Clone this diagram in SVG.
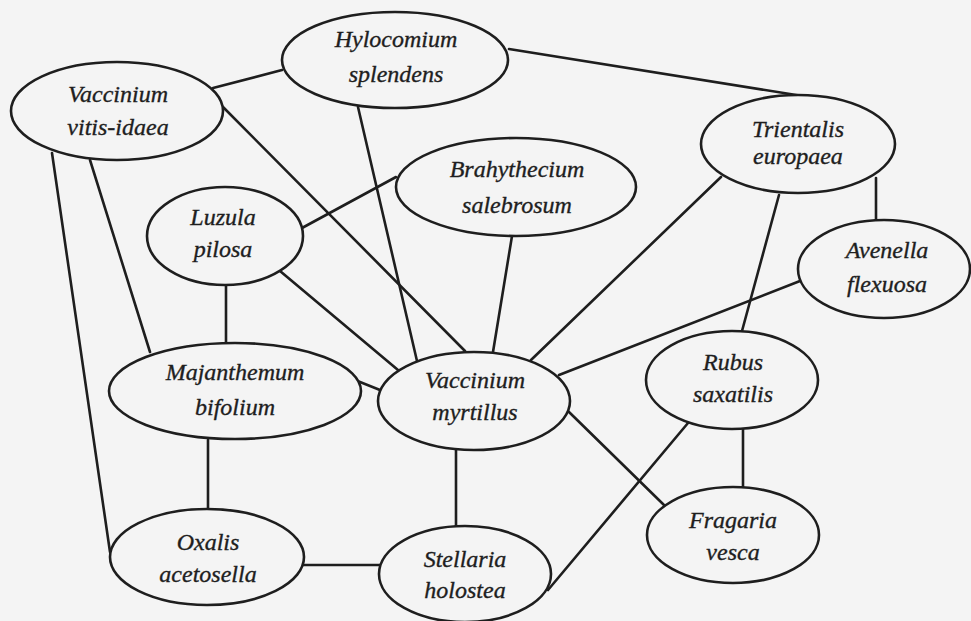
<svg xmlns="http://www.w3.org/2000/svg" width="971" height="621" viewBox="0 0 971 621">
<style>
.n ellipse{fill:#f4f4f4;stroke:#1e1e1e;stroke-width:2.6}
.n text{font-family:"Liberation Serif","Times New Roman","DejaVu Serif",serif;font-style:italic;font-size:24px;fill:#1e1e1e;stroke:#1e1e1e;stroke-width:0.35;text-anchor:middle}
#edges line{stroke:#1e1e1e;stroke-width:2.6;stroke-linecap:round}
</style>
<rect width="971" height="621" fill="#f4f4f4"/>
<g id="edges">
<line x1="213" y1="88" x2="282" y2="70"/>
<line x1="509" y1="49" x2="815" y2="98"/>
<line x1="223" y1="107" x2="465" y2="351"/>
<line x1="358" y1="107" x2="417" y2="361"/>
<line x1="302" y1="228" x2="396" y2="177"/>
<line x1="280" y1="271" x2="398" y2="370"/>
<line x1="226" y1="285" x2="226" y2="343"/>
<line x1="90" y1="160" x2="150" y2="352"/>
<line x1="52" y1="153" x2="110" y2="552"/>
<line x1="208" y1="440" x2="208" y2="509"/>
<line x1="355" y1="380" x2="380" y2="390"/>
<line x1="512" y1="236" x2="493" y2="352"/>
<line x1="721" y1="177" x2="531" y2="360"/>
<line x1="779" y1="195" x2="742" y2="331"/>
<line x1="876" y1="178" x2="876" y2="220"/>
<line x1="800" y1="281" x2="559" y2="375"/>
<line x1="569" y1="412" x2="664" y2="505"/>
<line x1="688" y1="423" x2="548" y2="590"/>
<line x1="743" y1="428" x2="743" y2="487"/>
<line x1="456" y1="450" x2="456" y2="527"/>
<line x1="303" y1="565" x2="380" y2="565"/>
</g>
<g id="hylocomium" class="n"><ellipse cx="395" cy="60" rx="113" ry="48"/><text x="396" y="47">Hylocomium</text><text x="396" y="82">splendens</text></g>
<g id="vitis-idaea" class="n"><ellipse cx="117" cy="111" rx="106" ry="49"/><text x="118" y="102">Vaccinium</text><text x="118" y="135">vitis-idaea</text></g>
<g id="luzula" class="n"><ellipse cx="225" cy="236" rx="78" ry="49"/><text x="223" y="225">Luzula</text><text x="223" y="257">pilosa</text></g>
<g id="brahythecium" class="n"><ellipse cx="516" cy="187" rx="120" ry="49"/><text x="517" y="177">Brahythecium</text><text x="517" y="213">salebrosum</text></g>
<g id="trientalis" class="n"><ellipse cx="798" cy="144" rx="97" ry="49"/><text x="798" y="137">Trientalis</text><text x="798" y="164">europaea</text></g>
<g id="avenella" class="n"><ellipse cx="884" cy="269" rx="86" ry="49"/><text x="887" y="258">Avenella</text><text x="887" y="292">flexuosa</text></g>
<g id="majanthemum" class="n"><ellipse cx="235" cy="391" rx="126" ry="48"/><text x="235" y="380">Majanthemum</text><text x="235" y="415">bifolium</text></g>
<g id="myrtillus" class="n"><ellipse cx="474" cy="401" rx="96" ry="49"/><text x="475" y="388">Vaccinium</text><text x="475" y="420">myrtillus</text></g>
<g id="rubus" class="n"><ellipse cx="732" cy="380" rx="86" ry="49"/><text x="733" y="370">Rubus</text><text x="733" y="402">saxatilis</text></g>
<g id="fragaria" class="n"><ellipse cx="733" cy="535" rx="86" ry="48"/><text x="733" y="528">Fragaria</text><text x="733" y="560">vesca</text></g>
<g id="oxalis" class="n"><ellipse cx="207" cy="557" rx="97" ry="48"/><text x="208" y="550">Oxalis</text><text x="208" y="582">acetosella</text></g>
<g id="stellaria" class="n"><ellipse cx="465" cy="574" rx="86" ry="48"/><text x="465" y="567">Stellaria</text><text x="465" y="598">holostea</text></g>
</svg>
